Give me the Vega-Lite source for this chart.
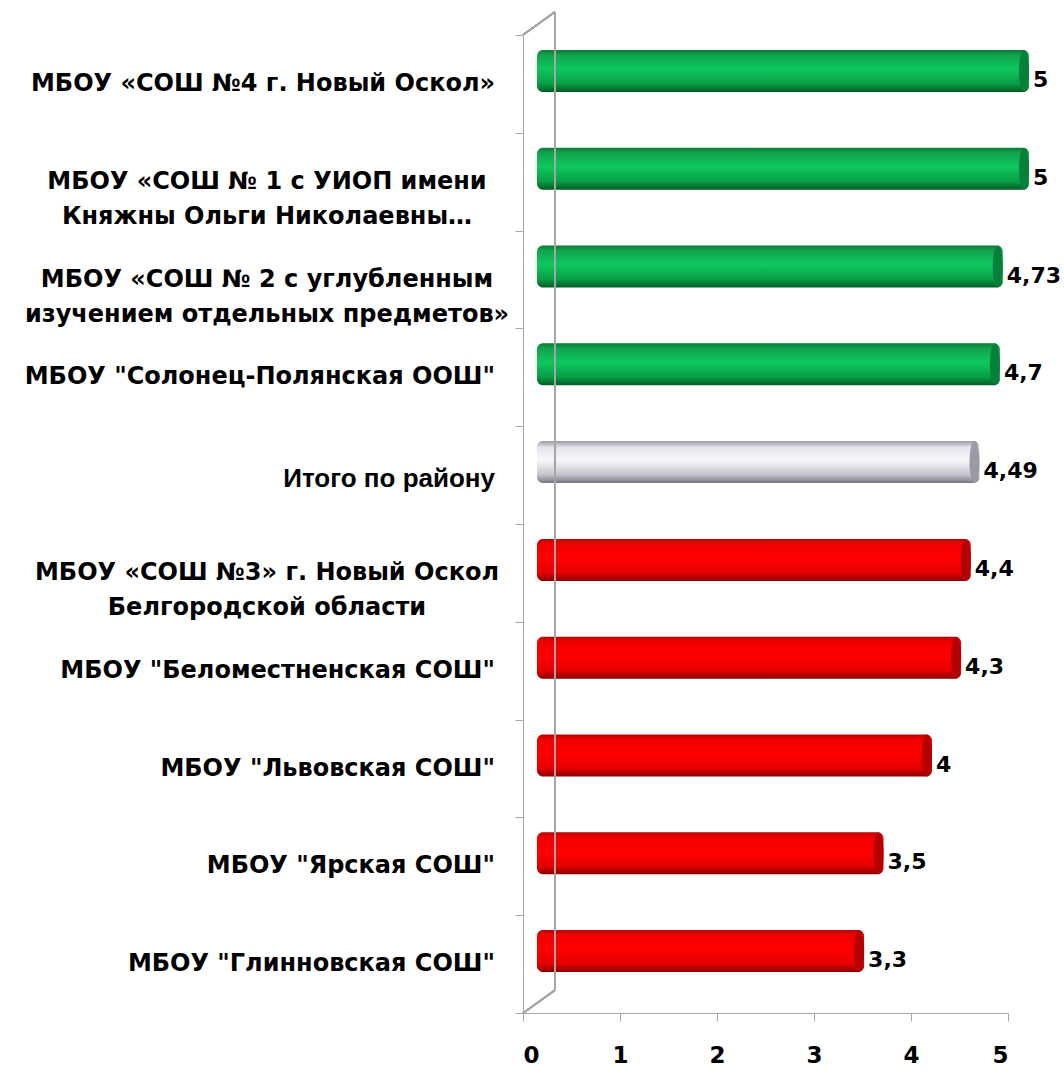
{
  "$schema": "https://vega.github.io/schema/vega-lite/v6.json",
  "width": 485,
  "height": 978,
  "autosize": "none",
  "padding": {"left": 523, "top": 35, "right": 56, "bottom": 62},
  "background": "white",
  "config": {
    "view": {"stroke": null},
    "locale": {"number": {"decimal": ",", "thousands": " ", "grouping": [3], "currency": ["", ""]}},
    "font": "DejaVu Sans"
  },
  "data": {
    "values": [
      {"name": "МБОУ «СОШ №4 г. Новый Оскол»", "value": 5, "group": "top", "lines": 1},
      {"name": "МБОУ «СОШ № 1 с УИОП имени|Княжны Ольги Николаевны…", "value": 5, "group": "top", "lines": 2},
      {"name": "МБОУ «СОШ № 2 с углубленным|изучением отдельных предметов»", "value": 4.73, "group": "top", "lines": 2},
      {"name": "МБОУ \"Солонец-Полянская ООШ\"", "value": 4.7, "group": "top", "lines": 1},
      {"name": "Итого по району", "value": 4.49, "group": "total", "lines": 1},
      {"name": "МБОУ «СОШ №3» г. Новый Оскол|Белгородской области", "value": 4.4, "group": "low", "lines": 2},
      {"name": "МБОУ \"Беломестненская СОШ\"", "value": 4.3, "group": "low", "lines": 1},
      {"name": "МБОУ \"Львовская  СОШ\"", "value": 4, "group": "low", "lines": 1},
      {"name": "МБОУ \"Ярская СОШ\"", "value": 3.5, "group": "low", "lines": 1},
      {"name": "МБОУ \"Глинновская СОШ\"", "value": 3.3, "group": "low", "lines": 1}
    ]
  },
  "layer": [
    {
      "transform": [{"filter": "datum.group == 'top'"}],
      "mark": {
        "type": "bar", "size": 42, "xOffset": 21, "x2Offset": 14, "yOffset": -13, "cornerRadius": 6,
        "color": {"gradient": "linear", "x1": 0, "y1": 0, "x2": 0, "y2": 1,
          "stops": [
            {"offset": 0, "color": "#0a7a38"},
            {"offset": 0.12, "color": "#12a24e"},
            {"offset": 0.45, "color": "#0cc85e"},
            {"offset": 0.8, "color": "#0a9e46"},
            {"offset": 1, "color": "#005c24"}
          ]}
      },
      "encoding": {
        "y": {
          "field": "name",
          "type": "nominal",
          "sort": null,
          "scale": {"paddingInner": 0, "paddingOuter": 0},
          "axis": {
            "title": null,
            "labels": false,
            "tickBand": "extent",
            "tickSize": 8,
            "tickColor": "#a6a6a6",
            "domainColor": "#a6a6a6"
          }
        },
        "x": {
          "field": "value",
          "type": "quantitative",
          "stack": null,
          "scale": {"domain": [0, 5], "nice": false},
          "axis": {
            "title": null,
            "grid": false,
            "values": [0, 1, 2, 3, 4, 5],
            "format": "d",
            "tickSize": 8,
            "tickColor": "#a6a6a6",
            "domainColor": "#a6a6a6",
            "labelFontSize": 23,
            "labelFontWeight": "bold",
            "labelColor": "black",
            "labelPadding": 23
          }
        },
        "x2": {"datum": 0}
      }
    },
    {
      "transform": [{"filter": "datum.group == 'total'"}],
      "mark": {
        "type": "bar", "size": 42, "xOffset": 21, "x2Offset": 14, "yOffset": -13, "cornerRadius": 6,
        "color": {"gradient": "linear", "x1": 0, "y1": 0, "x2": 0, "y2": 1,
          "stops": [
            {"offset": 0, "color": "#9c9ca6"},
            {"offset": 0.15, "color": "#e4e4ec"},
            {"offset": 0.45, "color": "#f7f7fb"},
            {"offset": 0.8, "color": "#c4c4cc"},
            {"offset": 1, "color": "#76767e"}
          ]}
      },
      "encoding": {
        "y": {"field": "name", "type": "nominal", "sort": null},
        "x": {"field": "value", "type": "quantitative", "stack": null},
        "x2": {"datum": 0}
      }
    },
    {
      "transform": [{"filter": "datum.group == 'low'"}],
      "mark": {
        "type": "bar", "size": 42, "xOffset": 21, "x2Offset": 14, "yOffset": -13, "cornerRadius": 6,
        "color": {"gradient": "linear", "x1": 0, "y1": 0, "x2": 0, "y2": 1,
          "stops": [
            {"offset": 0, "color": "#b80000"},
            {"offset": 0.12, "color": "#f00000"},
            {"offset": 0.45, "color": "#ff0000"},
            {"offset": 0.8, "color": "#e60000"},
            {"offset": 1, "color": "#8c0000"}
          ]}
      },
      "encoding": {
        "y": {"field": "name", "type": "nominal", "sort": null},
        "x": {"field": "value", "type": "quantitative", "stack": null},
        "x2": {"datum": 0}
      }
    },
    {
      "mark": {
        "type": "point", "filled": true, "opacity": 1, "size": 1764, "xOffset": 16, "yOffset": -13,
        "shape": "M 0 -1 A 0.24 1 0 1 1 0 1 A 0.24 1 0 1 1 0 -1 Z"
      },
      "encoding": {
        "y": {"field": "name", "type": "nominal", "sort": null},
        "x": {"field": "value", "type": "quantitative"},
        "color": {
          "field": "group", "type": "nominal", "legend": null,
          "scale": {"domain": ["top", "total", "low"], "range": ["#07803a", "#9a9aa4", "#b40000"]}
        }
      }
    },
    {
      "mark": {"type": "rule", "color": "#a6a6a6", "strokeWidth": 1.5, "xOffset": 32, "yOffset": -72, "y2Offset": 26},
      "encoding": {
        "x": {"datum": 0, "type": "quantitative"},
        "y": {"datum": "МБОУ «СОШ №4 г. Новый Оскол»", "type": "nominal"},
        "y2": {"datum": "МБОУ \"Глинновская СОШ\""}
      }
    },
    {
      "mark": {"type": "rule", "color": "#a6a6a6", "strokeWidth": 1.5, "x2Offset": 32, "yOffset": -49, "y2Offset": -72},
      "encoding": {
        "x": {"datum": 0, "type": "quantitative"},
        "x2": {"datum": 0},
        "y": {"datum": "МБОУ «СОШ №4 г. Новый Оскол»", "type": "nominal"},
        "y2": {"datum": "МБОУ «СОШ №4 г. Новый Оскол»"}
      }
    },
    {
      "mark": {"type": "rule", "color": "#a6a6a6", "strokeWidth": 1.5, "x2Offset": 32, "yOffset": 49, "y2Offset": 26},
      "encoding": {
        "x": {"datum": 0, "type": "quantitative"},
        "x2": {"datum": 0},
        "y": {"datum": "МБОУ \"Глинновская СОШ\"", "type": "nominal"},
        "y2": {"datum": "МБОУ \"Глинновская СОШ\""}
      }
    },
    {
      "mark": {"type": "text", "align": "left", "baseline": "middle", "xOffset": 25, "yOffset": -4, "fontSize": 22, "fontWeight": "bold", "color": "black"},
      "encoding": {
        "y": {"field": "name", "type": "nominal", "sort": null},
        "x": {"field": "value", "type": "quantitative"},
        "text": {"field": "value", "type": "quantitative", "format": ".2~f"}
      }
    },
    {
      "transform": [{"filter": "datum.lines == 1 && datum.group != 'total'"}],
      "mark": {"type": "text", "align": "right", "baseline": "middle", "xOffset": -28, "fontSize": 24, "fontWeight": "bold", "color": "black"},
      "encoding": {
        "y": {"field": "name", "type": "nominal", "sort": null},
        "x": {"datum": 0, "type": "quantitative"},
        "text": {"field": "name"}
      }
    },
    {
      "transform": [{"filter": "datum.group == 'total'"}],
      "mark": {"type": "text", "align": "right", "baseline": "middle", "xOffset": -28, "yOffset": 4, "fontSize": 26, "fontWeight": "bold", "font": "Liberation Sans", "color": "black"},
      "encoding": {
        "y": {"field": "name", "type": "nominal", "sort": null},
        "x": {"datum": 0, "type": "quantitative"},
        "text": {"field": "name"}
      }
    },
    {
      "transform": [{"filter": "datum.lines == 2"}],
      "mark": {"type": "text", "align": "center", "baseline": "middle", "xOffset": -256, "lineBreak": "|", "lineHeight": 35, "fontSize": 24, "fontWeight": "bold", "color": "black"},
      "encoding": {
        "y": {"field": "name", "type": "nominal", "sort": null},
        "x": {"datum": 0, "type": "quantitative"},
        "text": {"field": "name"}
      }
    }
  ]
}
